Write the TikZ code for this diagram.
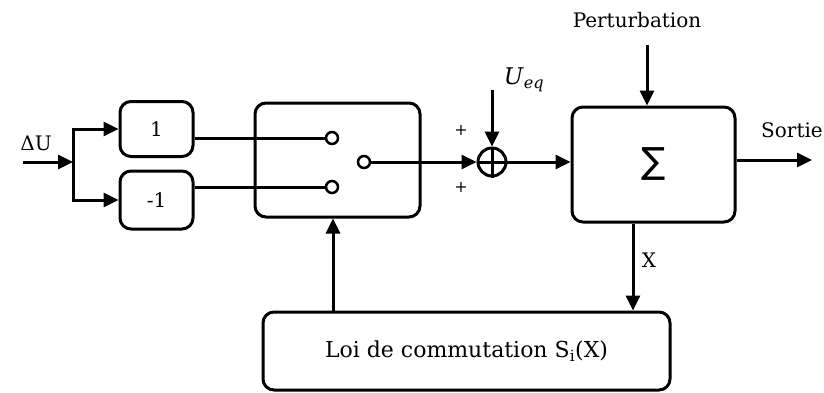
\documentclass[tikz,border=0pt]{standalone}
\usepackage{fontspec}
\setmainfont{DejaVu Serif}
\newfontfamily\symfont{DejaVu Sans}
\usetikzlibrary{arrows.meta, positioning, calc}

\begin{document}
\begin{tikzpicture}[
    x=1pt, y=-1pt,
    box/.style={
        rectangle,
        rounded corners=11pt,
        draw,
        line width=3pt,
        inner sep=0pt,
        align=center,
    },
    arrowline/.style={
        line width=3pt,
        -{Triangle[length=15pt, width=14pt]},
    },
    wire/.style={
        line width=3pt,
    },
    contact/.style={
        circle,
        draw,
        line width=2.5pt,
        minimum size=12pt,
        inner sep=0pt,
    },
    lbl/.style={font=\fontsize{20}{24}\selectfont, inner sep=0pt},
    sign/.style={font=\fontsize{16}{18}\selectfont, inner sep=0pt},
]

% Frame of the picture
\useasboundingbox (0,0) rectangle (824,392);

% Boxes
\node[box, lbl, minimum width=73pt, minimum height=55pt] (gainp) at (156.5,129) {1};
\node[box, lbl, minimum width=73pt, minimum height=58pt] (gainm) at (156.5,200) {-1};
\node[box, minimum width=165pt, minimum height=114pt] (switch) at (337.5,160) {};
\node[box, minimum width=163pt, minimum height=115pt,
      font=\symfont\fontsize{36}{40}\selectfont] (plant) at (653.5,164.5) {∑};
\node[box, lbl, font=\fontsize{22}{26}\selectfont, minimum width=407pt, minimum height=78pt]
    (law) at (466.5,351) {Loi de commutation S\textsubscript{i}(X)};

% Switch contacts
\node[contact] (cup) at (332,138) {};
\node[contact] (cdown) at (332,187) {};
\node[contact] (cout) at (364,162) {};

% Summing point
\node[circle, draw, line width=3pt, minimum size=28pt, inner sep=0pt] (sum) at (492,162) {};
\draw[wire] (sum.north) -- (sum.south) (sum.west) -- (sum.east);

% Labels
\node[lbl] (du) at (36,143) {ΔU};
\node[sign] (pplus) at (461,130) {+};
\node[sign] (mplus) at (461,187) {+};
\node[lbl, font=\fontsize{23}{26}\selectfont] (ueq) at (524,80) {\textit{U}\textsubscript{\textit{eq}}};
\node[lbl] (pert) at (637,20) {Perturbation};
\node[lbl, anchor=east] (sortie) at (823,130) {Sortie};
\node[lbl] (xlbl) at (649,260) {X};

% Free ends
\coordinate (in) at (23,162);
\coordinate (jn) at (73,162);
\coordinate (ueqtop) at (492,90);
\coordinate (perttop) at (647,45);
\coordinate (outend) at (812,160);
\coordinate (xline) at (633,0);
\coordinate (fbline) at (333,0);

% Input and split
\draw[arrowline] (in) -- (jn);
\draw[arrowline] (jn) |- (gainp.west);
\draw[arrowline] (jn) |- (gainm.west);

% Into the switch
\draw[wire] (gainp.east |- cup) -- (cup);
\draw[wire] (gainm.east |- cdown) -- (cdown);

% Forward path
\draw[arrowline] (cout) -- (sum);
\draw[arrowline] (ueqtop) -- (sum);
\draw[arrowline] (sum) -- (sum -| plant.west);
\draw[arrowline] (perttop) -- (perttop |- plant.north);
\draw[arrowline] (plant.east |- outend) -- (outend);

% Feedback loop
\draw[arrowline] (xline |- plant.south) -- (xline |- law.north);
\draw[arrowline] (fbline |- law.north) -- (fbline |- switch.south);

\end{tikzpicture}
\end{document}
